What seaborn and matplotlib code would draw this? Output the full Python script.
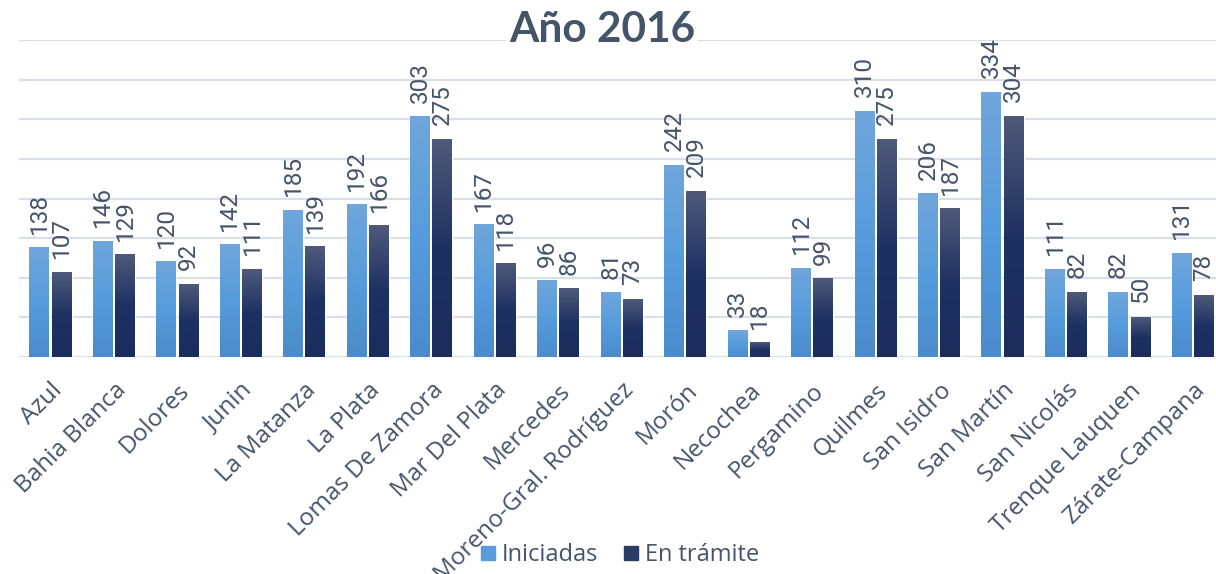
import numpy as np
import pandas as pd
import matplotlib
matplotlib.use("Agg")
import matplotlib.pyplot as plt
import seaborn as sns
from matplotlib.colors import LinearSegmentedColormap
from matplotlib.lines import Line2D

departamentos = [
    "Azul", "Bahia Blanca", "Dolores", "Junin", "La Matanza", "La Plata",
    "Lomas De Zamora", "Mar Del Plata", "Mercedes", "Moreno-Gral. Rodríguez",
    "Morón", "Necochea", "Pergamino", "Quilmes", "San Isidro", "San Martín",
    "San Nicolás", "Trenque Lauquen", "Zárate-Campana",
]
iniciadas = [138, 146, 120, 142, 185, 192, 303, 167, 96, 81, 242, 33, 112, 310, 206, 334, 111, 82, 131]
en_tramite = [107, 129, 92, 111, 139, 166, 275, 118, 86, 73, 209, 18, 99, 275, 187, 304, 82, 50, 78]
series = ["Iniciadas", "En trámite"]

df = pd.DataFrame({
    "Departamento": departamentos * 2,
    "Serie": [series[0]] * len(departamentos) + [series[1]] * len(departamentos),
    "Valor": iniciadas + en_tramite,
})

text_color = "#44546a"
grid_color = "#dadee5"
light_cmap = LinearSegmentedColormap.from_list("light", ["#4a8bcb", "#569cdc", "#70a6db"])
dark_cmap = LinearSegmentedColormap.from_list("dark", ["#1a2d5d", "#1d3163", "#4f5a7a"])

sns.set_style("white")
plt.rcParams["font.family"] = ["Open Sans", "DejaVu Sans"]

fig = plt.figure(figsize=(12.16, 5.74), dpi=100)
ax = fig.add_axes([18.75 / 1216, 1 - 357 / 574, 1206 / 1216, 317 / 574])

sns.barplot(data=df, x="Departamento", y="Valor", hue="Serie",
            palette=["#569cdc", "#1d3163"], width=0.7, gap=0.1,
            legend=False, ax=ax, zorder=2)

ax.set_ylim(0, 400)
ax.set_xlim(-0.5, len(departamentos) - 0.5)
ax.set_yticks(np.arange(0, 401, 50))
ax.yaxis.grid(True, color=grid_color, linewidth=1.6, zorder=0)
ax.set_axisbelow(True)
ax.tick_params(axis="y", left=False, labelleft=False)
ax.tick_params(axis="x", bottom=False, pad=12)
for side in ["top", "right", "left", "bottom"]:
    ax.spines[side].set_visible(False)
ax.set_xlabel("")
ax.set_ylabel("")

# gradient fill for each bar
grad = np.linspace(0, 1, 256).reshape(-1, 1)
xlim, ylim = ax.get_xlim(), ax.get_ylim()
for container, cmap in zip(ax.containers, [light_cmap, dark_cmap]):
    for bar in container:
        x, y = bar.get_x(), bar.get_y()
        w, h = bar.get_width(), bar.get_height()
        ax.imshow(grad, extent=[x, x + w, y, y + h], origin="lower",
                  aspect="auto", cmap=cmap, zorder=3)
    ax.bar_label(container, rotation=90, padding=10, fontsize=17.5,
                 color=text_color, family=["Roboto", "DejaVu Sans"])
ax.set_xlim(xlim)
ax.set_ylim(ylim)

plt.setp(ax.get_xticklabels(), rotation=45, ha="right", rotation_mode="anchor",
         fontsize=17.5, color=text_color)

fig.text(0.495, 1 - 30 / 574, "Año 2016", ha="center", va="center",
         fontsize=30.5, fontweight="bold", color=text_color, family=["Lato", "DejaVu Sans"],
         bbox=dict(facecolor="white", edgecolor="none", pad=2))

handles = [
    Line2D([], [], marker="s", linestyle="none", markersize=10, color="#5a9cdb"),
    Line2D([], [], marker="s", linestyle="none", markersize=10, color="#2b3b68"),
]
fig.legend(handles, series, loc="center", bbox_to_anchor=(0.509, 1 - 555 / 574),
           ncol=2, frameon=False, fontsize=17, labelcolor=text_color,
           handletextpad=0.2, columnspacing=1.0, handlelength=0.8)

fig.savefig("out.png", dpi=100)
